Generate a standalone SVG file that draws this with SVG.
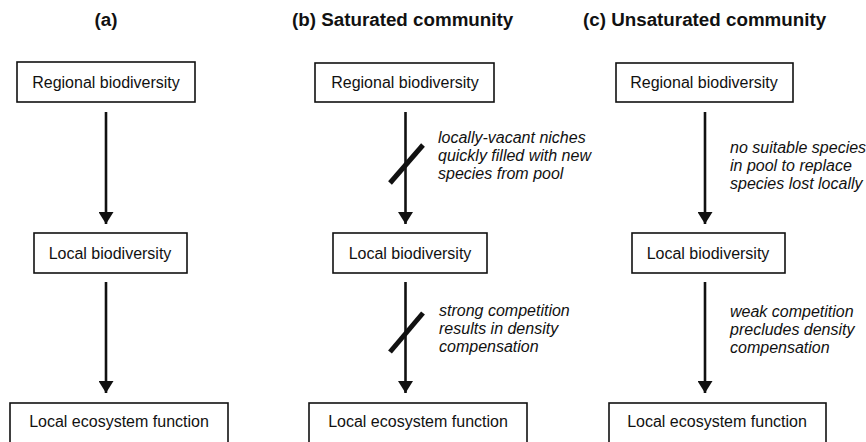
<svg xmlns="http://www.w3.org/2000/svg" width="866" height="442" viewBox="0 0 866 442">
<style>
.box{fill:#fff;stroke:#111;stroke-width:1.6}
.lbl{font-family:"Liberation Sans",Arial,sans-serif;font-size:16px;fill:#111;text-anchor:middle}
.title{font-family:"Liberation Sans",Arial,sans-serif;font-size:18.8px;font-weight:bold;fill:#111}
.ann{font-family:"Liberation Sans",Arial,sans-serif;font-size:16px;font-style:italic;fill:#111}
.edge{stroke:#111;stroke-width:2.6;fill:none;marker-end:url(#ah)}
.slash{stroke:#111;stroke-width:5;fill:none}
</style>
<defs>
<marker id="ah" markerUnits="userSpaceOnUse" markerWidth="12" markerHeight="15" refX="12" refY="7.5" orient="auto" viewBox="0 0 12 15">
<path d="M0,0 L12,7.5 L0,15 Z" fill="#111"/>
</marker>
</defs>
<rect width="866" height="442" fill="#fff"/>
<text class="title" x="106" y="26" text-anchor="middle">(a)</text>
<text class="title" x="292" y="26">(b) Saturated community</text>
<text class="title" x="583" y="26">(c) Unsaturated community</text>

<g id="a-regional"><rect class="box" x="17" y="62" width="178" height="40"/><text class="lbl" x="106" y="88">Regional biodiversity</text></g>
<g id="a-local"><rect class="box" x="34" y="233" width="153" height="40"/><text class="lbl" x="110" y="259">Local biodiversity</text></g>
<g id="a-function"><rect class="box" x="10" y="403" width="218" height="46"/><text class="lbl" x="119" y="427">Local ecosystem function</text></g>

<g id="b-regional"><rect class="box" x="315" y="63" width="179" height="39"/><text class="lbl" x="405" y="88">Regional biodiversity</text></g>
<g id="b-local"><rect class="box" x="333" y="233" width="154" height="40"/><text class="lbl" x="410" y="259">Local biodiversity</text></g>
<g id="b-function"><rect class="box" x="309" y="403" width="218" height="46"/><text class="lbl" x="418" y="427">Local ecosystem function</text></g>

<g id="c-regional"><rect class="box" x="616" y="63" width="177" height="39"/><text class="lbl" x="704" y="88">Regional biodiversity</text></g>
<g id="c-local"><rect class="box" x="632" y="233" width="153" height="40"/><text class="lbl" x="708" y="259">Local biodiversity</text></g>
<g id="c-function"><rect class="box" x="609" y="403" width="217" height="46"/><text class="lbl" x="717" y="427">Local ecosystem function</text></g>

<g id="connectors">
<line class="edge" x1="106" y1="112" x2="106" y2="224"/>
<line class="edge" x1="106" y1="282" x2="106" y2="393"/>
<line class="edge" x1="405.5" y1="112" x2="405.5" y2="224"/>
<line class="edge" x1="405.5" y1="282" x2="405.5" y2="393"/>
<line class="edge" x1="705" y1="112" x2="705" y2="224"/>
<line class="edge" x1="705" y1="282" x2="705" y2="393"/>
<line class="slash" x1="390" y1="183" x2="423" y2="145"/>
<line class="slash" x1="390" y1="352" x2="423" y2="313"/>
</g>

<g id="annotations">
<text class="ann" x="438" y="143">locally-vacant niches</text>
<text class="ann" x="438" y="161">quickly filled with new</text>
<text class="ann" x="438" y="179">species from pool</text>
<text class="ann" x="730" y="153">no suitable species</text>
<text class="ann" x="730" y="171">in pool to replace</text>
<text class="ann" x="730" y="189">species lost locally</text>
<text class="ann" x="439" y="316">strong competition</text>
<text class="ann" x="439" y="334">results in density</text>
<text class="ann" x="439" y="352">compensation</text>
<text class="ann" x="730" y="317">weak competition</text>
<text class="ann" x="730" y="335">precludes density</text>
<text class="ann" x="730" y="353">compensation</text>
</g>
</svg>
